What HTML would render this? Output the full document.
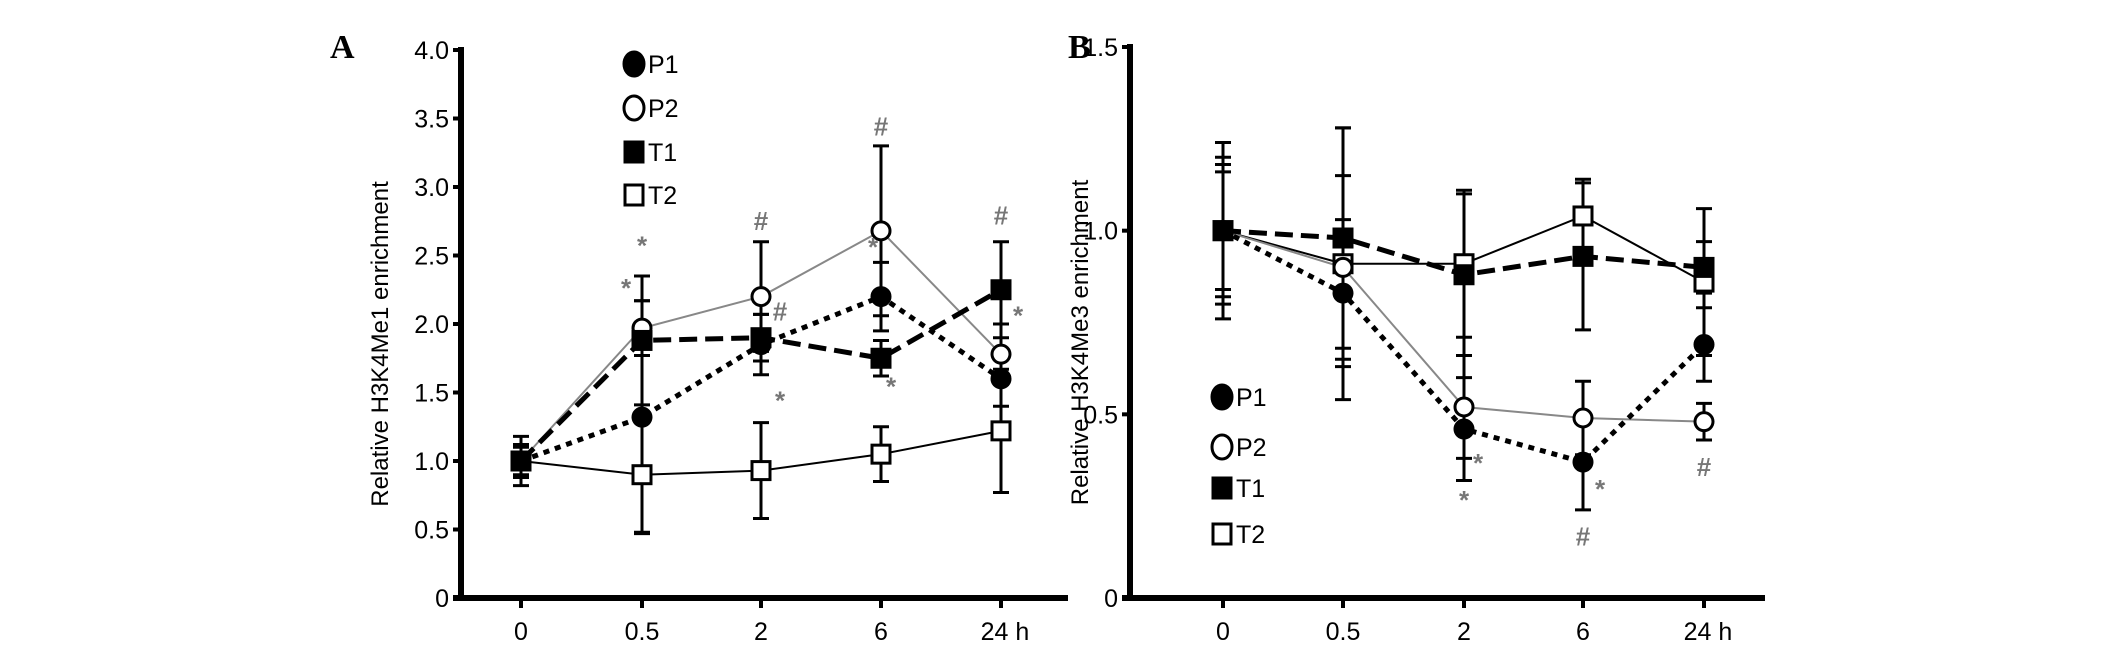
<!DOCTYPE html>
<html><head><meta charset="utf-8"><style>
html,body{margin:0;padding:0;background:#fff;}
svg{display:block;font-family:"Liberation Sans",Arial,sans-serif;}
</style></head><body>
<svg id="fig" width="2126" height="651" viewBox="0 0 2126 651"></svg>
<script>
const categories = ["0","0.5","2","6","24 h"];
// Panel A values
const aP1 = [1.0,1.32,1.85,2.2,1.6];
const aP2 = [1.0,1.97,2.2,2.68,1.78];
const aT1 = [1.0,1.88,1.9,1.75,2.25];
const aT2 = [1.0,0.9,0.93,1.05,1.22];
const aP1err = [0.12,0.85,0.22,0.25,0.2];
const aP2err = [0.1,0.2,0.4,0.62,0.22];
const aT1err = [0.12,0.47,0.17,0.13,0.35];
const aT2err = [0.18,0.42,0.35,0.2,0.45];
const aTicks = ["0","0.5","1.0","1.5","2.0","2.5","3.0","3.5","4.0"];
const aTickVals = [0,0.5,1,1.5,2,2.5,3,3.5,4];
const aMarksSym = ["*","*","#","#","*","#","*","*","#","*"];
const aMarksIdx = [1,1,2,2,2,3,3,3,4,4];
const aMarksVal = [2.58,2.27,2.76,2.1,1.45,3.45,2.57,1.55,2.8,2.07];
const aMarksDx = [0,-16,0,19,19,0,-8,10,0,17];
// Panel B values
const bP1 = [1.0,0.83,0.46,0.37,0.69];
const bP2 = [1.0,0.9,0.52,0.49,0.48];
const bT1 = [1.0,0.98,0.88,0.93,0.9];
const bT2 = [1.0,0.91,0.91,1.04,0.86];
const bP1err = [0.2,0.2,0.14,0.13,0.1];
const bP2err = [0.16,0.25,0.14,0.1,0.05];
const bT1err = [0.18,0.3,0.22,0.2,0.07];
const bT2err = [0.24,0.37,0.2,0.1,0.2];
const bTicks = ["0","0.5","1.0","1.5"];
const bTickVals = [0,0.5,1,1.5];
const bMarksSym = ["*","*","*","#","#"];
const bMarksIdx = [2,2,3,3,4];
const bMarksVal = [0.37,0.27,0.3,0.17,0.36];
const bMarksDx = [14,0,17,0,0];

const NS="http://www.w3.org/2000/svg";
const svg=document.getElementById('fig');
function mk(tag,attrs,parent,text){const e=document.createElementNS(NS,tag);for(const k in attrs)e.setAttribute(k,attrs[k]);if(text!==undefined)e.textContent=text;(parent||svg).appendChild(e);return e;}

function panel(cfg){
  const g=mk('g',{});
  
  
  const xs=cfg.xs, y=v=>cfg.y0-(v/cfg.max)*(cfg.y0-cfg.yTop);
  // axes
  const ya=mk('line',{x1:cfg.ax,y1:cfg.yTop-3,x2:cfg.ax,y2:cfg.y0+3,stroke:'#000','stroke-width':6},g);
  
  const xa=mk('line',{x1:cfg.ax-8,y1:cfg.y0,x2:cfg.axEnd,y2:cfg.y0,stroke:'#000','stroke-width':6},g);
  
  cfg.tickVals.forEach((v,i)=>{
    mk('line',{x1:cfg.ax-8,y1:y(v),x2:cfg.ax,y2:y(v),stroke:'#000','stroke-width':4},g);
    const t=mk('text',{x:cfg.ax-12,y:y(v)+9,'text-anchor':'end','font-size':25},g,cfg.ticks[i]);
    
  });
  categories.forEach((c,i)=>{
    mk('line',{x1:xs[i],y1:cfg.y0,x2:xs[i],y2:cfg.y0+10,stroke:'#000','stroke-width':4},g);
    const t=mk('text',{x:xs[i]+(i==4?4:0),y:cfg.y0+42,'text-anchor':'middle','font-size':25},g,c);
    
  });
  const yt=mk('text',{x:0,y:0,transform:`translate(${cfg.titleX},${(cfg.y0+cfg.yTop)/2+20}) rotate(-90)`,'text-anchor':'middle','font-size':24},g,cfg.title);
  
  const pl=mk('text',{x:cfg.letterX,y:cfg.letterY,'font-family':'Liberation Serif, serif','font-weight':'bold','font-size':34},g,cfg.letter);
  
  const series=[
    {k:'T2',d:cfg.T2,e:cfg.T2e,stroke:'#000',w:2,dash:'',m:'sq',fill:'#fff'},
    {k:'P2',d:cfg.P2,e:cfg.P2e,stroke:'#888',w:2,dash:'',m:'ci',fill:'#fff'},
    {k:'T1',d:cfg.T1,e:cfg.T1e,stroke:'#000',w:5,dash:'18 8',m:'sq',fill:'#000'},
    {k:'P1',d:cfg.P1,e:cfg.P1e,stroke:'#000',w:5,dash:'6 6',m:'ci',fill:'#000'}];
  series.forEach(s=>{
    s.d.forEach((v,i)=>{
      const eb=mk('path',{d:`M${xs[i]},${y(v+s.e[i])}V${y(v-s.e[i])}M${xs[i]-8},${y(v+s.e[i])}H${xs[i]+8}M${xs[i]-8},${y(v-s.e[i])}H${xs[i]+8}`,stroke:'#000','stroke-width':3,fill:'none'},g);
      
    });
  });
  series.forEach(s=>{
    const pts=s.d.map((v,i)=>xs[i]+','+y(v)).join(' ');
    const ln=mk('polyline',{points:pts,fill:'none',stroke:s.stroke,'stroke-width':s.w,'stroke-dasharray':s.dash},g);
    
  });
  series.forEach(s=>{
    s.d.forEach((v,i)=>{
      let m;
      if(s.m=='sq') m=mk('rect',{x:xs[i]-9,y:y(v)-9,width:18,height:18,fill:s.fill,stroke:'#000','stroke-width':3},g);
      else m=mk('circle',{cx:xs[i],cy:y(v),r:9,fill:s.fill,stroke:'#000','stroke-width':3},g);
      
    });
  });
  cfg.mSym.forEach((sym,i)=>{
    const t=mk('text',{x:xs[cfg.mIdx[i]]+cfg.mDx[i],y:y(cfg.mVal[i])+10,'text-anchor':'middle','font-size':26,'font-weight':'bold',fill:'#777'},g,sym);
    
  });
  // legend
  const lk=['P1','P2','T1','T2'];
  lk.forEach((k,i)=>{
    const ly=cfg.legY[i], lx=cfg.legX;
    const lg=mk('g',{},g);
    
    
    if(k[0]=='T') mk('rect',{x:lx-9,y:ly-10,width:18,height:20,fill:k=='T1'?'#000':'#fff',stroke:'#000','stroke-width':3},lg);
    else mk('ellipse',{cx:lx,cy:ly,rx:10,ry:12,fill:k=='P1'?'#000':'#fff',stroke:'#000','stroke-width':3},lg);
    mk('text',{x:lx+14,y:ly+9,'font-size':25},lg,k);
  });
}
panel({name:'panel-a',xs:[521,642,761,881,1001],ax:461,axEnd:1068,y0:598,yTop:50,max:4,
  ticks:aTicks,tickVals:aTickVals,title:'Relative H3K4Me1 enrichment',titleX:388,letter:'A',letterX:330,letterY:58,
  P1:aP1,P2:aP2,T1:aT1,T2:aT2,P1e:aP1err,P2e:aP2err,T1e:aT1err,T2e:aT2err,
  mSym:aMarksSym,mIdx:aMarksIdx,mVal:aMarksVal,mDx:aMarksDx,legX:634,legY:[64,108,152,195]});
panel({name:'panel-b',xs:[1223,1343,1464,1583,1704],ax:1130,axEnd:1765,y0:598,yTop:47,max:1.5,
  ticks:bTicks,tickVals:bTickVals,title:'Relative H3K4Me3 enrichment',titleX:1088,letter:'B',letterX:1068,letterY:58,
  P1:bP1,P2:bP2,T1:bT1,T2:bT2,P1e:bP1err,P2e:bP2err,T1e:bT1err,T2e:bT2err,
  mSym:bMarksSym,mIdx:bMarksIdx,mVal:bMarksVal,mDx:bMarksDx,legX:1222,legY:[397,447,488,534]});
</script>
</body></html>
